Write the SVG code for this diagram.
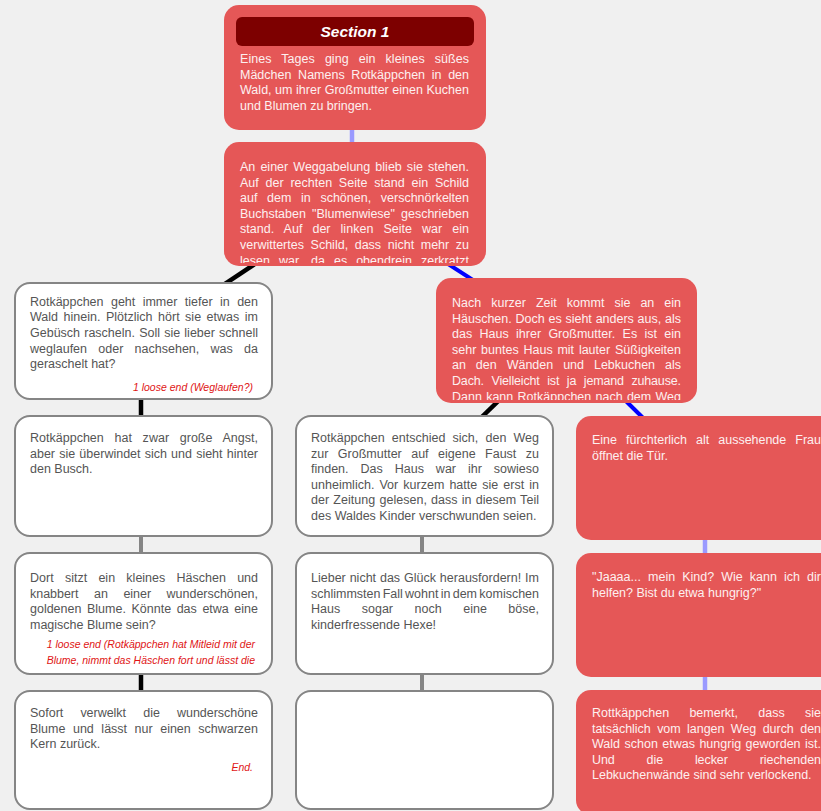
<svg xmlns="http://www.w3.org/2000/svg" width="821" height="811" viewBox="0 0 821 811">
<defs>
<style>
.bg{fill:#f0f0f0}
.red{fill:#e55757}
.wht{fill:#ffffff;stroke:#858585;stroke-width:2}
.hdr{fill:#7d0000}
text{font-family:"Liberation Sans",Arial,sans-serif;font-size:12.5px}
.tw{fill:#fdf0f0}
.tg{fill:#555555}
.le{fill:#e01515;font-style:italic;font-size:10.5px;text-anchor:end}
.ttl{fill:#ffffff;font-weight:bold;font-style:italic;font-size:15.5px;text-anchor:middle}
.blk{stroke:#000000;stroke-width:4.5}
.blu{stroke:#0000ff;stroke-width:4}
.vio{stroke:#9a9aff;stroke-width:4.5}
.gry{stroke:#858585;stroke-width:4}
</style>
<clipPath id="c2"><rect x="224" y="142" width="262" height="121"/></clipPath>
<clipPath id="cN"><rect x="436" y="278" width="261" height="122"/></clipPath>
<clipPath id="cL3"><rect x="14" y="552" width="259" height="121"/></clipPath>
</defs>
<rect class="bg" x="0" y="0" width="821" height="811"/>

<g id="connectors">
<line class="vio" x1="352" y1="68" x2="352" y2="204"/>
<line class="blk" x1="345" y1="204" x2="139" y2="341"/>
<line class="blu" x1="355" y1="204" x2="566" y2="340"/>
<line class="blk" x1="141" y1="341" x2="141" y2="476"/>
<line class="gry" x1="141" y1="476" x2="141" y2="613"/>
<line class="blk" x1="141" y1="613" x2="141" y2="750"/>
<line class="blk" x1="561" y1="340" x2="421" y2="476"/>
<line class="blu" x1="564" y1="340" x2="704" y2="478"/>
<line class="gry" x1="422" y1="476" x2="422" y2="613"/>
<line class="gry" x1="422" y1="613" x2="422" y2="750"/>
<line class="vio" x1="705" y1="478" x2="705" y2="615"/>
<line class="vio" x1="705" y1="615" x2="705" y2="750"/>
</g>

<g id="node-section1">
<rect class="red" x="224" y="5" width="262" height="125" rx="15"/>
<rect class="hdr" x="236" y="17" width="238" height="29" rx="6"/>
<text class="ttl" x="355" y="37">Section 1</text>
<text class="tw" x="240" y="63" style="word-spacing:6.5px" textLength="229" lengthAdjust="spacing">Eines Tages ging ein kleines süßes</text>
<text class="tw" x="240" y="78.6" style="word-spacing:3.2px" textLength="229" lengthAdjust="spacing">Mädchen Namens Rotkäppchen in den</text>
<text class="tw" x="240" y="94.2" textLength="229" lengthAdjust="spacing">Wald, um ihrer Großmutter einen Kuchen</text>
<text class="tw" x="240" y="109.8">und Blumen zu bringen.</text>
</g>

<g id="node-weggabelung">
<rect class="red" x="224" y="142" width="262" height="124" rx="15"/>
<g clip-path="url(#c2)">
<text class="tw" x="240" y="171" style="word-spacing:1.6px" textLength="229" lengthAdjust="spacing">An einer Weggabelung blieb sie stehen.</text>
<text class="tw" x="240" y="186.6" style="word-spacing:3.3px" textLength="229" lengthAdjust="spacing">Auf der rechten Seite stand ein Schild</text>
<text class="tw" x="240" y="202.2" style="word-spacing:6.2px" textLength="229" lengthAdjust="spacing">auf dem in schönen, verschnörkelten</text>
<text class="tw" x="240" y="217.8" style="word-spacing:2.7px" textLength="229" lengthAdjust="spacing">Buchstaben "Blumenwiese" geschrieben</text>
<text class="tw" x="240" y="233.4" style="word-spacing:6.5px" textLength="229" lengthAdjust="spacing">stand. Auf der linken Seite war ein</text>
<text class="tw" x="240" y="249" style="word-spacing:3.1px" textLength="229" lengthAdjust="spacing">verwittertes Schild, dass nicht mehr zu</text>
<text class="tw" x="240" y="265" style="word-spacing:5.5px" textLength="229" lengthAdjust="spacing">lesen war, da es obendrein zerkratzt</text>
</g>
</g>

<g id="node-tiefer">
<rect class="wht" x="15" y="283" width="257" height="116" rx="15"/>
<text class="tg" x="30" y="305.7" style="word-spacing:4px" textLength="228" lengthAdjust="spacing">Rotkäppchen geht immer tiefer in den</text>
<text class="tg" x="30" y="321.3" style="word-spacing:2px" textLength="228" lengthAdjust="spacing">Wald hinein. Plötzlich hört sie etwas im</text>
<text class="tg" x="30" y="336.9" style="word-spacing:0.7px" textLength="228" lengthAdjust="spacing">Gebüsch rascheln. Soll sie lieber schnell</text>
<text class="tg" x="30" y="352.5" style="word-spacing:7.8px" textLength="228" lengthAdjust="spacing">weglaufen oder nachsehen, was da</text>
<text class="tg" x="30" y="368.1">geraschelt hat?</text>
<text class="le" x="253" y="391">1 loose end (Weglaufen?)</text>
</g>

<g id="node-haeuschen">
<rect class="red" x="436" y="278" width="261" height="125" rx="15"/>
<g clip-path="url(#cN)">
<text class="tw" x="452" y="307" style="word-spacing:6.5px" textLength="229" lengthAdjust="spacing">Nach kurzer Zeit kommt sie an ein</text>
<text class="tw" x="452" y="322.6" style="word-spacing:0.3px" textLength="229" lengthAdjust="spacing">Häuschen. Doch es sieht anders aus, als</text>
<text class="tw" x="452" y="338.2" style="word-spacing:3.8px" textLength="229" lengthAdjust="spacing">das Haus ihrer Großmutter. Es ist ein</text>
<text class="tw" x="452" y="353.8" style="word-spacing:1.3px" textLength="229" lengthAdjust="spacing">sehr buntes Haus mit lauter Süßigkeiten</text>
<text class="tw" x="452" y="369.4" style="word-spacing:6.5px" textLength="229" lengthAdjust="spacing">an den Wänden und Lebkuchen als</text>
<text class="tw" x="452" y="385" style="word-spacing:4.3px" textLength="229" lengthAdjust="spacing">Dach. Vielleicht ist ja jemand zuhause.</text>
<text class="tw" x="452" y="401" style="word-spacing:0.8px" textLength="229" lengthAdjust="spacing">Dann kann Rotkäppchen nach dem Weg</text>
</g>
</g>

<g id="node-angst">
<rect class="wht" x="15" y="416" width="257" height="120" rx="15"/>
<text class="tg" x="30" y="442" style="word-spacing:7.2px" textLength="228" lengthAdjust="spacing">Rotkäppchen hat zwar große Angst,</text>
<text class="tg" x="30" y="457.6" style="word-spacing:0.7px" textLength="228" lengthAdjust="spacing">aber sie überwindet sich und sieht hinter</text>
<text class="tg" x="30" y="473.2">den Busch.</text>
</g>

<g id="node-entschied">
<rect class="wht" x="296" y="416" width="257" height="120" rx="15"/>
<text class="tg" x="311" y="442" style="word-spacing:3.7px" textLength="228" lengthAdjust="spacing">Rotkäppchen entschied sich, den Weg</text>
<text class="tg" x="311" y="457.6" style="word-spacing:6px" textLength="228" lengthAdjust="spacing">zur Großmutter auf eigene Faust zu</text>
<text class="tg" x="311" y="473.2" style="word-spacing:8.5px" textLength="228" lengthAdjust="spacing">finden. Das Haus war ihr sowieso</text>
<text class="tg" x="311" y="488.8" style="word-spacing:1.5px" textLength="228" lengthAdjust="spacing">unheimlich. Vor kurzem hatte sie erst in</text>
<text class="tg" x="311" y="504.4" style="word-spacing:0.6px" textLength="228" lengthAdjust="spacing">der Zeitung gelesen, dass in diesem Teil</text>
<text class="tg" x="311" y="520">des Waldes Kinder verschwunden seien.</text>
</g>

<g id="node-frau">
<rect class="red" x="576" y="416" width="260" height="124" rx="15"/>
<text class="tw" x="592" y="444" style="word-spacing:5.7px" textLength="229" lengthAdjust="spacing">Eine fürchterlich alt aussehende Frau</text>
<text class="tw" x="592" y="459.6">öffnet die Tür.</text>
</g>

<g id="node-haeschen">
<rect class="wht" x="15" y="553" width="257" height="121" rx="15"/>
<text class="tg" x="30" y="582" style="word-spacing:7.8px" textLength="228" lengthAdjust="spacing">Dort sitzt ein kleines Häschen und</text>
<text class="tg" x="30" y="597.6" style="word-spacing:12.1px" textLength="228" lengthAdjust="spacing">knabbert an einer wunderschönen,</text>
<text class="tg" x="30" y="613.2" style="word-spacing:2.1px" textLength="228" lengthAdjust="spacing">goldenen Blume. Könnte das etwa eine</text>
<text class="tg" x="30" y="628.8">magische Blume sein?</text>
<g clip-path="url(#cL3)">
<text class="le" x="255" y="648">1 loose end (Rotkäppchen hat Mitleid mit der</text>
<text class="le" x="255" y="664">Blume, nimmt das Häschen fort und lässt die</text>
</g>
</g>

<g id="node-glueck">
<rect class="wht" x="296" y="553" width="257" height="121" rx="15"/>
<text class="tg" x="311" y="582" style="word-spacing:0.4px" textLength="228" lengthAdjust="spacing">Lieber nicht das Glück herausfordern! Im</text>
<text class="tg" x="311" y="597.6" style="word-spacing:-1.2px" textLength="228" lengthAdjust="spacing">schlimmsten Fall wohnt in dem komischen</text>
<text class="tg" x="311" y="613.2" style="word-spacing:18px" textLength="228" lengthAdjust="spacing">Haus sogar noch eine böse,</text>
<text class="tg" x="311" y="628.8">kinderfressende Hexe!</text>
</g>

<g id="node-jaaaa">
<rect class="red" x="576" y="553" width="260" height="124" rx="15"/>
<text class="tw" x="592" y="581" style="word-spacing:3.6px" textLength="229" lengthAdjust="spacing">"Jaaaa... mein Kind? Wie kann ich dir</text>
<text class="tw" x="592" y="596.6">helfen? Bist du etwa hungrig?"</text>
</g>

<g id="node-verwelkt">
<rect class="wht" x="15" y="691" width="257" height="118" rx="15"/>
<text class="tg" x="30" y="717" style="word-spacing:13.7px" textLength="228" lengthAdjust="spacing">Sofort verwelkt die wunderschöne</text>
<text class="tg" x="30" y="732.6" style="word-spacing:4.1px" textLength="228" lengthAdjust="spacing">Blume und lässt nur einen schwarzen</text>
<text class="tg" x="30" y="748.2">Kern zurück.</text>
<text class="le" x="253" y="771">End.</text>
</g>

<g id="node-empty">
<rect class="wht" x="296" y="691" width="257" height="118" rx="15"/>
</g>

<g id="node-hungrig">
<rect class="red" x="576" y="690" width="260" height="125" rx="15"/>
<text class="tw" x="592" y="717" style="word-spacing:16.8px" textLength="229" lengthAdjust="spacing">Rottkäppchen bemerkt, dass sie</text>
<text class="tw" x="592" y="732.6" style="word-spacing:3px" textLength="229" lengthAdjust="spacing">tatsächlich vom langen Weg durch den</text>
<text class="tw" x="592" y="748.2" style="word-spacing:0.9px" textLength="229" lengthAdjust="spacing">Wald schon etwas hungrig geworden ist.</text>
<text class="tw" x="592" y="763.8" style="word-spacing:28.4px" textLength="229" lengthAdjust="spacing">Und die lecker riechenden</text>
<text class="tw" x="592" y="779.4">Lebkuchenwände sind sehr verlockend.</text>
</g>
</svg>
